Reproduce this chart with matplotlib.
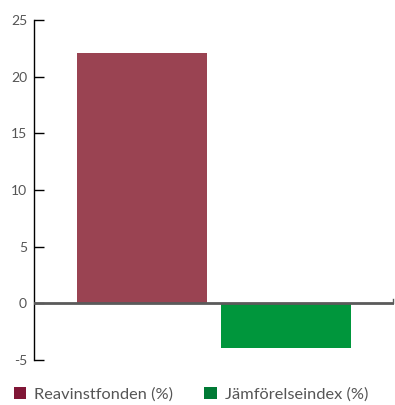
import matplotlib
matplotlib.use("Agg")
import matplotlib.pyplot as plt
from matplotlib.patches import Patch

# ================================================================================
series_names = ["Reavinstfonden (%)", "Jämförelseindex (%)"]
series_values = [22.1, -3.95]
bar_colors = ["#9A4352", "#00963C"]
legend_colors = ["#801636", "#007A35"]
y_ticks = [-5, 0, 5, 10, 15, 20, 25]

plt.rcParams["font.family"] = ["Lato", "DejaVu Sans"]

# ================================================================================
fig = plt.figure(figsize=(3.95, 4.05), dpi=100)
ax = fig.add_axes([34 / 395, 45 / 405, 360 / 395, 340 / 405])

offsets = [-0.2, 0.2]
for one_x, one_val, one_color in zip(offsets, series_values, bar_colors):
  ax.bar(one_x, one_val, width=0.361, color=one_color, zorder=2)

# zero line with the small end mark on the right
ax.axhline(0, color="#5a5a5a", linewidth=2, zorder=3)
ax.plot([0.497, 0.497], [0, 0.35], color="#5a5a5a", linewidth=1, zorder=3, clip_on=False)

ax.set_xlim(-0.5, 0.5)
ax.set_ylim(-5, 25)
ax.set_yticks(y_ticks)
ax.set_yticklabels([str(t) for t in y_ticks])
ax.set_xticks([])

for side in ["top", "right", "bottom"]:
  ax.spines[side].set_visible(False)
ax.spines["left"].set_color("black")
ax.spines["left"].set_linewidth(1)

ax.tick_params(axis="y", direction="in", length=7, width=1, color="black",
               labelsize=10, labelcolor="#555555", pad=5)

# ================================================================================
handles = [Patch(facecolor=c, edgecolor="none") for c in legend_colors]
leg = fig.legend(handles, series_names, loc="lower left", bbox_to_anchor=(0.018, -0.008),
                 ncol=2, frameon=False, fontsize=11.8, handlelength=0.75, handleheight=0.75,
                 handletextpad=0.5, columnspacing=1.9, borderaxespad=0)
for t in leg.get_texts():
  t.set_color("#555555")

fig.savefig("out.png", dpi=100)
